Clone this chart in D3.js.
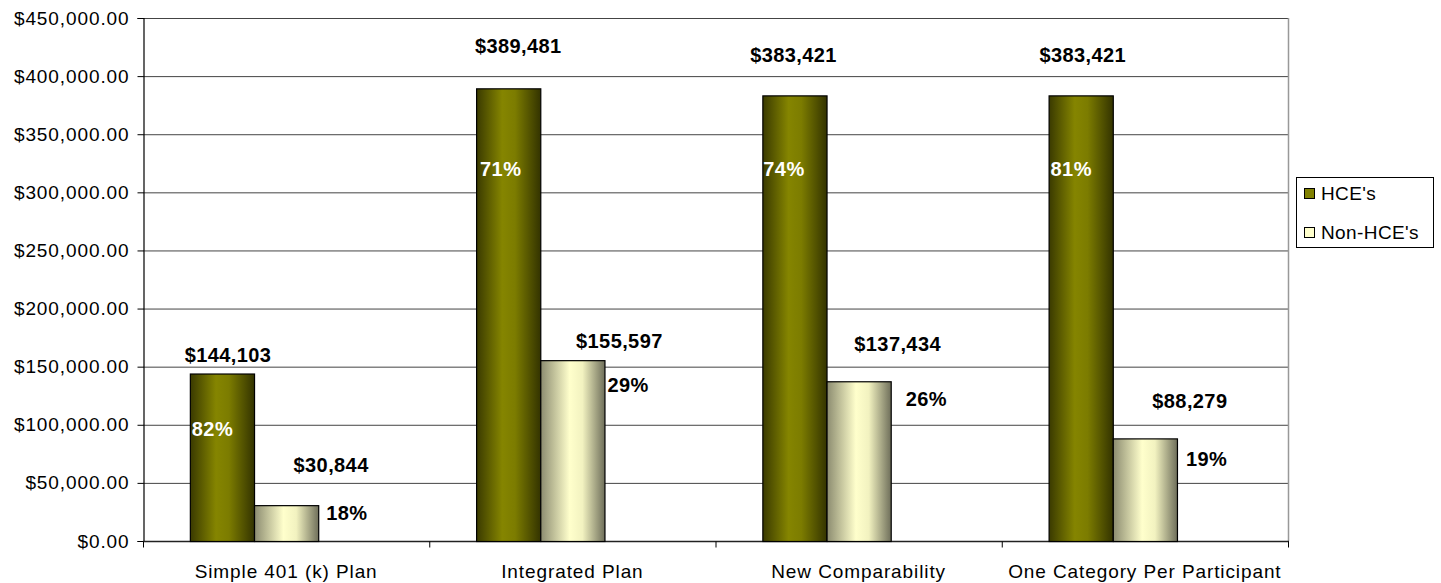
<!DOCTYPE html>
<html>
<head>
<meta charset="utf-8">
<script src="https://cdn.jsdelivr.net/npm/d3@7"></script>
<style>
  body { margin: 0; background: #fff; }
  svg { font-family: Arial, "Liberation Sans", sans-serif; }
  .tick-label { font-size: 19px; letter-spacing: 0.9px; fill: #000; }
  .legend-label { font-size: 19px; letter-spacing: 0.4px; fill: #000; }
  .val-label { font-size: 20px; font-weight: bold; letter-spacing: 0.4px; fill: #000; }
  .pct-in { font-size: 20px; font-weight: bold; letter-spacing: 0.4px; fill: #fff; }
</style>
</head>
<body>
<div id="chart"></div>
<script>
// data
const categories = ["Simple 401 (k) Plan", "Integrated Plan", "New Comparability", "One Category Per Participant"];
const seriesNames = ["HCE's", "Non-HCE's"];
const hceValues = [144103, 389481, 383421, 383421];
const nonHceValues = [30844, 155597, 137434, 88279];
const hcePercents = ["82%", "71%", "74%", "81%"];
const nonHcePercents = ["18%", "29%", "26%", "19%"];
const yTickValues = [0, 50000, 100000, 150000, 200000, 250000, 300000, 350000, 400000, 450000];

// label nudges (pixels) -- the original labels were dragged around by hand
const hceValueNudge = [[6, -12], [10, -35], [-1, -33], [2, -33]];
const nonHceValueNudge = [[45, -33], [47, -12], [39, -30], [45, -30]];
const hcePctNudge = [[2, 62], [4, 88], [1, 81], [2, 81]];
const nonHcePctNudge = [[8, 15], [3, 32], [15, 25], [9, 28]];

const WIDTH = 1441;
const HEIGHT = 583;
const PLOT_LEFT = 143;
const PLOT_RIGHT = 1288;
const PLOT_TOP = 18;
const PLOT_BOTTOM = 541;

let svg = d3.select("#chart")
    .append("svg")
    .attr("width", WIDTH)
    .attr("height", HEIGHT);

let defs = svg.append("defs");
function addGradient(id, stops) {
    let g = defs.append("linearGradient")
        .attr("id", id)
        .attr("x1", "0%").attr("x2", "100%")
        .attr("y1", "0%").attr("y2", "0%");
    stops.forEach(s => {
        g.append("stop").attr("offset", s[0]).attr("stop-color", s[1]);
    });
}
addGradient("grad-hce", [["0%", "#3a3a00"], ["40%", "#858500"], ["60%", "#7c7c00"], ["100%", "#333300"]]);
addGradient("grad-non", [["0%", "#8c8c70"], ["45%", "#ffffcc"], ["65%", "#f2f2c0"], ["100%", "#6e6e5a"]]);
const fills = ["url(#grad-hce)", "url(#grad-non)"];
const swatchColors = ["#808000", "#ffffcc"];

let xScale = d3.scaleBand()
    .domain(categories)
    .range([PLOT_LEFT, PLOT_RIGHT])
    .padding(0);

// third slot is an empty series in the original, leaving the bars off-centre
let xSub = d3.scaleBand()
    .domain(seriesNames.concat(["(blank)"]))
    .range([0, xScale.bandwidth()])
    .paddingInner(0)
    .paddingOuter(0.73);

let yScale = d3.scaleLinear()
    .domain([0, 450000])
    .range([PLOT_BOTTOM, PLOT_TOP]);

// gridlines
svg.append("g")
    .selectAll("line")
    .data(yTickValues.filter(v => v > 0))
    .enter().append("line")
    .attr("x1", PLOT_LEFT).attr("x2", PLOT_RIGHT)
    .attr("y1", d => yScale(d) + 0.5).attr("y2", d => yScale(d) + 0.5)
    .attr("stroke", "#444")
    .attr("stroke-width", 1);

// right border of plot area
svg.append("line")
    .attr("x1", PLOT_RIGHT + 0.5).attr("x2", PLOT_RIGHT + 0.5)
    .attr("y1", PLOT_TOP).attr("y2", PLOT_BOTTOM)
    .attr("stroke", "#999")
    .attr("stroke-width", 1.5);

// y axis
let yAxis = svg.append("g")
    .attr("transform", "translate(" + (PLOT_LEFT + 0.5) + ",0)")
    .call(d3.axisLeft(yScale)
        .tickValues(yTickValues)
        .tickSize(6)
        .tickPadding(8)
        .tickFormat(d => "$" + d3.format(",.2f")(d)));
yAxis.select(".domain").attr("stroke", "#000").attr("stroke-width", 1.2);
yAxis.selectAll(".tick line").attr("stroke", "#000");
yAxis.selectAll("text").attr("class", "tick-label").attr("font-family", null).attr("font-size", null);

// x axis
let xAxisG = svg.append("g")
    .attr("transform", "translate(0," + (PLOT_BOTTOM + 0.5) + ")");
xAxisG.append("line")
    .attr("x1", PLOT_LEFT).attr("x2", PLOT_RIGHT + 1)
    .attr("stroke", "#222").attr("stroke-width", 1.5);
xAxisG.selectAll(".cat-tick")
    .data(categories.concat(["end"]))
    .enter().append("line")
    .attr("class", "cat-tick")
    .attr("x1", (d, i) => i < categories.length ? xScale(d) + 0.5 : PLOT_RIGHT + 0.5)
    .attr("x2", (d, i) => i < categories.length ? xScale(d) + 0.5 : PLOT_RIGHT + 0.5)
    .attr("y1", 0).attr("y2", 6)
    .attr("stroke", "#000");
xAxisG.selectAll(".cat-label")
    .data(categories)
    .enter().append("text")
    .attr("class", "tick-label")
    .attr("x", d => xScale(d) + xScale.bandwidth() / 2)
    .attr("y", 36)
    .attr("text-anchor", "middle")
    .text(d => d);

// bars
let rows = categories.map((c, i) => ({
    category: c,
    values: [hceValues[i], nonHceValues[i]]
}));

let groups = svg.append("g")
    .selectAll("g")
    .data(rows)
    .enter().append("g")
    .attr("transform", d => "translate(" + xScale(d.category) + ",0)");

groups.selectAll("rect")
    .data(d => d.values.map((v, k) => ({ key: seriesNames[k], k: k, value: v })))
    .enter().append("rect")
    .attr("x", d => xSub(d.key) + 0.5)
    .attr("y", d => yScale(d.value) + 0.5)
    .attr("width", xSub.bandwidth())
    .attr("height", d => PLOT_BOTTOM - yScale(d.value))
    .attr("fill", d => fills[d.k])
    .attr("stroke", "#000")
    .attr("stroke-width", 1.2);

// labels
let fmt = d3.format(",");
let labels = svg.append("g");
categories.forEach((c, i) => {
    let x0 = xScale(c);
    let hceX = x0 + xSub(seriesNames[0]);
    let nonX = x0 + xSub(seriesNames[1]);
    let bw = xSub.bandwidth();
    let hceTop = yScale(hceValues[i]);
    let nonTop = yScale(nonHceValues[i]);

    labels.append("text")
        .attr("class", "val-label")
        .attr("text-anchor", "middle")
        .attr("x", hceX + bw / 2 + hceValueNudge[i][0])
        .attr("y", hceTop + hceValueNudge[i][1])
        .text("$" + fmt(hceValues[i]));

    labels.append("text")
        .attr("class", "val-label")
        .attr("text-anchor", "middle")
        .attr("x", nonX + bw / 2 + nonHceValueNudge[i][0])
        .attr("y", nonTop + nonHceValueNudge[i][1])
        .text("$" + fmt(nonHceValues[i]));

    labels.append("text")
        .attr("class", "pct-in")
        .attr("x", hceX + hcePctNudge[i][0])
        .attr("y", hceTop + hcePctNudge[i][1])
        .text(hcePercents[i]);

    labels.append("text")
        .attr("class", "val-label")
        .attr("x", nonX + bw + nonHcePctNudge[i][0])
        .attr("y", nonTop + nonHcePctNudge[i][1])
        .text(nonHcePercents[i]);
});

// legend
let legend = svg.append("g")
    .attr("transform", "translate(1296,177)");
legend.append("rect")
    .attr("x", 0.5).attr("y", 0.5)
    .attr("width", 137).attr("height", 70)
    .attr("fill", "#fff")
    .attr("stroke", "#000");
seriesNames.forEach((name, i) => {
    legend.append("rect")
        .attr("x", 8.5).attr("y", 11.5 + i * 39)
        .attr("width", 10).attr("height", 10)
        .attr("fill", swatchColors[i])
        .attr("stroke", "#000");
    legend.append("text")
        .attr("class", "legend-label")
        .attr("x", 25)
        .attr("y", 23 + i * 39)
        .text(name);
});
</script>
</body>
</html>
